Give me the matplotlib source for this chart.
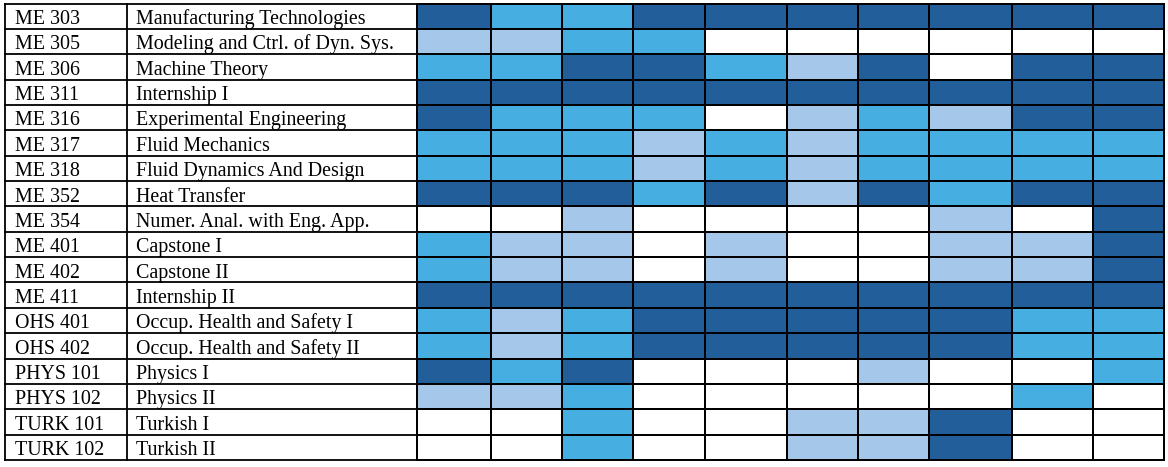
import matplotlib
matplotlib.use("Agg")
import matplotlib.pyplot as plt
from matplotlib.colors import ListedColormap, BoundaryNorm
import numpy as np

codes = ["ME 303", "ME 305", "ME 306", "ME 311", "ME 316", "ME 317", "ME 318",
         "ME 352", "ME 354", "ME 401", "ME 402", "ME 411", "OHS 401", "OHS 402",
         "PHYS 101", "PHYS 102", "TURK 101", "TURK 102"]
names = ["Manufacturing Technologies", "Modeling and Ctrl. of Dyn. Sys.",
         "Machine Theory", "Internship I", "Experimental Engineering",
         "Fluid Mechanics", "Fluid Dynamics And Design", "Heat Transfer",
         "Numer. Anal. with Eng. App.", "Capstone I", "Capstone II",
         "Internship II", "Occup. Health and Safety I", "Occup. Health and Safety II",
         "Physics I", "Physics II", "Turkish I", "Turkish II"]
# 0 = none, 1 = low, 2 = medium, 3 = high
levels = [
    [3, 2, 2, 3, 3, 3, 3, 3, 3, 3],
    [1, 1, 2, 2, 0, 0, 0, 0, 0, 0],
    [2, 2, 3, 3, 2, 1, 3, 0, 3, 3],
    [3, 3, 3, 3, 3, 3, 3, 3, 3, 3],
    [3, 2, 2, 2, 0, 1, 2, 1, 3, 3],
    [2, 2, 2, 1, 2, 1, 2, 2, 2, 2],
    [2, 2, 2, 1, 2, 1, 2, 2, 2, 2],
    [3, 3, 3, 2, 3, 1, 3, 2, 3, 3],
    [0, 0, 1, 0, 0, 0, 0, 1, 0, 3],
    [2, 1, 1, 0, 1, 0, 0, 1, 1, 3],
    [2, 1, 1, 0, 1, 0, 0, 1, 1, 3],
    [3, 3, 3, 3, 3, 3, 3, 3, 3, 3],
    [2, 1, 2, 3, 3, 3, 3, 3, 2, 2],
    [2, 1, 2, 3, 3, 3, 3, 3, 2, 2],
    [3, 2, 3, 0, 0, 0, 1, 0, 0, 2],
    [1, 1, 2, 0, 0, 0, 0, 0, 2, 0],
    [0, 0, 2, 0, 0, 1, 1, 3, 0, 0],
    [0, 0, 2, 0, 0, 1, 1, 3, 0, 0],
]

W, H = 1168, 467
fig = plt.figure(figsize=(W / 100, H / 100), dpi=100)
ax = fig.add_axes([0, 0, 1, 1])
ax.set_xlim(0, W)
ax.set_ylim(H, 0)
ax.axis("off")

# layout (pixel grid)
col_edges = [5, 127, 417, 491, 562, 633, 705, 787, 858, 929, 1012, 1093, 1164]
top, bottom = 3.5, 460
nrows = len(codes)
row_edges = np.linspace(top, bottom, nrows + 1)

cmap = ListedColormap(["#FFFFFF", "#A4C7EA", "#46AEE0", "#225E9A"])
norm = BoundaryNorm([-0.5, 0.5, 1.5, 2.5, 3.5], cmap.N)
ax.pcolormesh(col_edges[2:], row_edges, np.array(levels), cmap=cmap, norm=norm,
              edgecolor="black", linewidth=1.3)

# grid lines for text columns
for y in row_edges:
    ax.plot([col_edges[0], col_edges[-1]], [y, y], color="black", lw=1.3)
for x in col_edges:
    ax.plot([x, x], [top, bottom], color="black", lw=1.3)

for i in range(nrows):
    yb = row_edges[i] + 20.5
    ax.text(col_edges[0] + 10, yb, codes[i], family="Liberation Serif",
            fontsize=14.4, va="baseline", ha="left")
    ax.text(col_edges[1] + 9, yb, names[i], family="Liberation Serif",
            fontsize=14.4, va="baseline", ha="left")

fig.savefig("out.png", dpi=100)
